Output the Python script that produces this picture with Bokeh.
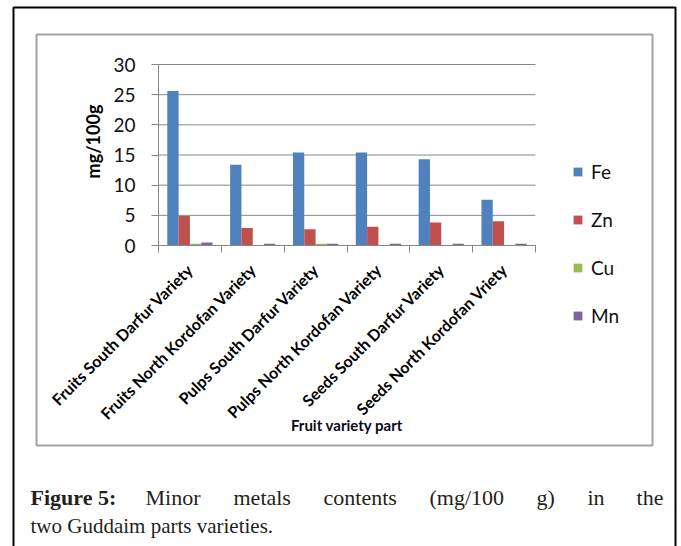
import math
from bokeh.plotting import figure
from bokeh.models import (ColumnDataSource, LinearAxis, FixedTicker, Range1d, Legend,
                          LegendItem)
from bokeh.core.properties import value
from bokeh.transform import dodge
from bokeh.embed import file_html
from bokeh.resources import INLINE

# ---- data ----
categories = ["Fruits South Darfur Variety", "Fruits North Kordofan Variety",
              "Pulps South Darfur Variety", "Pulps North Kordofan Variety",
              "Seeds South Darfur Variety", "Seeds North Kordofan Vriety"]
fe = [25.6, 13.4, 15.4, 15.4, 14.3, 7.6]
zn = [4.9, 2.9, 2.7, 3.1, 3.8, 4.0]
cu = [0.3, 0.0, 0.3, 0.0, 0.0, 0.0]
mn = [0.5, 0.3, 0.3, 0.3, 0.3, 0.3]
series_names = ["Fe", "Zn", "Cu", "Mn"]
series_colors = ["#4F81BD", "#C0504D", "#9BBB59", "#8064A2"]
y_ticks = [0, 5, 10, 15, 20, 25, 30]
y_max = 30

# ---- layout (canvas pixels) ----
W, H = 681, 546
FL, FR, FT, FB = 158, 535, 64, 245   # chart plotting area edges
n = len(categories)
sx = n / (FR - FL)          # data units per pixel, x
sy = y_max / (FB - FT)      # data units per pixel, y

p = figure(width=W, height=H, output_backend="svg", toolbar_location=None,
           x_range=Range1d(0, W), y_range=Range1d(H, 0),
           x_axis_type=None, y_axis_type=None, min_border=0)
p.min_border_left = p.min_border_right = p.min_border_top = p.min_border_bottom = 0
p.outline_line_color = None
p.background_fill_color = "white"
p.border_fill_color = "white"
p.xgrid.visible = False
p.ygrid.visible = False

p.extra_x_ranges = {"bx": Range1d(-FL * sx, (W - FL) * sx)}
p.extra_y_ranges = {"by": Range1d(-(H - FB) * sy, y_max + FT * sy)}

# outer frame and chart box
p.quad(left=[13], right=[675], top=[7], bottom=[600], fill_color=None,
       line_color="#000000", line_width=2)
p.quad(left=[36], right=[652], top=[34], bottom=[445], fill_color=None,
       line_color="#A3A3A3", line_width=2)

grey = "#868686"
# horizontal gridlines (drawn on the chart's own scales)
p.segment(x0=[0] * len(y_ticks), x1=[n] * len(y_ticks), y0=y_ticks, y1=y_ticks,
          x_range_name="bx", y_range_name="by", line_color=grey, line_width=1)

src = ColumnDataSource(dict(x=[i + 0.5 for i in range(n)], Fe=fe, Zn=zn, Cu=cu, Mn=mn))
bw = 0.18
renderers = []
for k, (name, col) in enumerate(zip(series_names, series_colors)):
    r = p.vbar(x=dodge("x", (k - 1.5) * bw), top=name, width=bw, source=src,
               fill_color=col, line_color=None,
               x_range_name="bx", y_range_name="by")
    renderers.append(r)

# y axis
yax = LinearAxis(ticker=FixedTicker(ticks=y_ticks, minor_ticks=[]),
                 x_range_name="bx", y_range_name="by", fixed_location=0,
                 bounds=(0, y_max))
yax.axis_line_color = grey
yax.major_tick_line_color = grey
yax.major_tick_out = 7
yax.major_tick_in = 0
yax.minor_tick_line_color = None
yax.major_label_text_font = "Lato"
yax.major_label_text_font_size = "19px"
yax.major_label_text_color = "#111111"
yax.major_label_standoff = 16
p.add_layout(yax, "left")

# y axis title
p.text(x=[92], y=[141], text=["mg/100g"], angle=math.pi / 2,
       text_font=value("Lato"), text_font_style="bold", text_font_size="18px",
       text_color="#000000", text_align="center", text_baseline="middle")

# x axis
centers = [i + 0.5 for i in range(n)]
bounds = list(range(n + 1))
xax = LinearAxis(ticker=FixedTicker(ticks=centers, minor_ticks=bounds),
                 x_range_name="bx", y_range_name="by", fixed_location=0,
                 bounds=(0, n))
xax.major_label_overrides = {c: lab for c, lab in zip(centers, categories)}
xax.axis_line_color = grey
xax.major_tick_line_color = None
xax.major_tick_out = 0
xax.major_tick_in = 0
xax.minor_tick_line_color = grey
xax.minor_tick_out = 7
xax.minor_tick_in = 0
xax.major_label_orientation = math.pi / 4
xax.major_label_text_font = "Lato"
xax.major_label_text_font_style = "bold"
xax.major_label_text_font_size = "16px"
xax.major_label_text_color = "#000000"
xax.major_label_standoff = 14
xax.axis_label = "Fruit variety part"
xax.axis_label_text_font = "Lato"
xax.axis_label_text_font_style = "bold"
xax.axis_label_text_font_size = "15px"
xax.axis_label_text_color = "#0a0a1a"
xax.axis_label_standoff = -16
p.add_layout(xax, "below")

# legend
items = [LegendItem(label=nm, renderers=[r]) for nm, r in zip(series_names, renderers)]
legend = Legend(items=items, location=(572, H - 327),
                background_fill_alpha=0, border_line_color=None,
                padding=0, margin=0, spacing=24, glyph_width=11, glyph_height=11,
                label_height=24, label_standoff=8,
                label_text_font="Lato", label_text_font_size="19px",
                label_text_color="#111111")
p.add_layout(legend, "center")

# caption (first line justified)
cap_font = value("Liberation Serif")
p.text(x=[30], y=[497], text=["Figure 5:"], text_font=cap_font,
       text_font_style="bold", text_font_size="22px", text_color="#231F20",
       text_baseline="alphabetic", text_align="left")
cap1_words = ["Minor", "metals", "contents", "(mg/100", "g)", "in"]
cap1_x = [145, 233, 323, 429, 536, 587]
p.text(x=cap1_x, y=[497] * len(cap1_x), text=cap1_words, text_font=cap_font,
       text_font_size="22px", text_color="#231F20",
       text_baseline="alphabetic", text_align="left")
p.text(x=[663], y=[497], text=["the"], text_font=cap_font,
       text_font_size="22px", text_color="#231F20",
       text_baseline="alphabetic", text_align="right")
p.text(x=[30], y=[525], text=["two Guddaim parts varieties."], text_font=cap_font,
       text_font_size="21px", text_color="#231F20",
       text_baseline="alphabetic", text_align="left")

open("out.html", "w").write(file_html(p, INLINE))
